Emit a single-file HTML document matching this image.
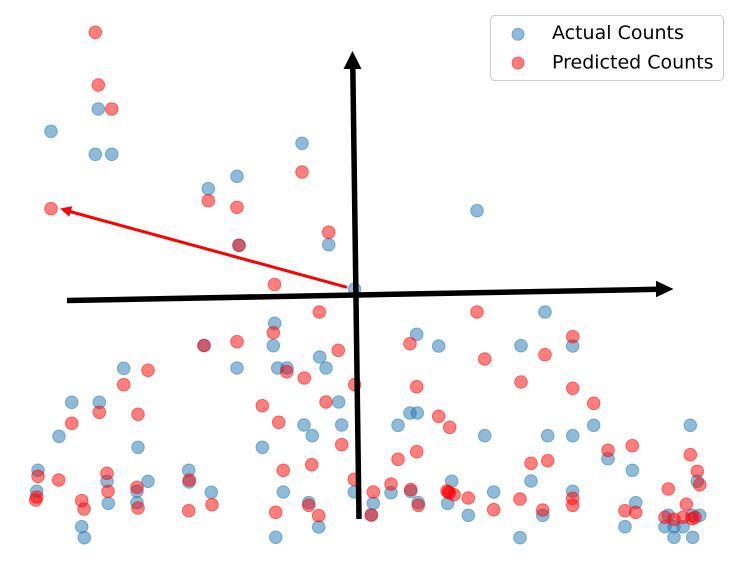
<!DOCTYPE html>
<html><head><meta charset="utf-8"><style>
html,body{margin:0;padding:0;background:#fff;}
svg{display:block;}
text{font-family:"DejaVu Sans","Liberation Sans",sans-serif;}
.b circle{fill:#1f77b4;fill-opacity:0.5;stroke:#1f77b4;stroke-opacity:0.5;stroke-width:1;}
.r circle{fill:#ff0000;fill-opacity:0.5;stroke:#ff0000;stroke-opacity:0.5;stroke-width:1;}
</style></head><body>
<svg width="754" height="575" viewBox="0 0 754 575" xmlns="http://www.w3.org/2000/svg">
<rect width="754" height="575" fill="#fff"/>
<g class="b">
<circle cx="98.3" cy="109" r="6.3"/><circle cx="51" cy="131.3" r="6.3"/><circle cx="95.3" cy="154.3" r="6.3"/><circle cx="111.7" cy="154.3" r="6.3"/>
<circle cx="302" cy="143.3" r="6.3"/><circle cx="237" cy="176.3" r="6.3"/><circle cx="208.3" cy="188.7" r="6.3"/><circle cx="239" cy="245.3" r="6.3"/>
<circle cx="328.7" cy="244.7" r="6.3"/><circle cx="354.5" cy="289" r="6.3"/><circle cx="477" cy="210.7" r="6.3"/><circle cx="204" cy="345.5" r="6.3"/>
<circle cx="123.7" cy="368.3" r="6.3"/><circle cx="71.7" cy="402.3" r="6.3"/><circle cx="99.3" cy="402.3" r="6.3"/><circle cx="59" cy="436.3" r="6.3"/>
<circle cx="138" cy="447.3" r="6.3"/><circle cx="38" cy="470.3" r="6.3"/><circle cx="107" cy="481.3" r="6.3"/><circle cx="148" cy="481.3" r="6.3"/>
<circle cx="137" cy="491.3" r="6.3"/><circle cx="137" cy="502.7" r="6.3"/><circle cx="188.7" cy="470.3" r="6.3"/><circle cx="189" cy="482" r="6.3"/>
<circle cx="36.7" cy="491.3" r="6.3"/><circle cx="108.3" cy="503.3" r="6.3"/><circle cx="81.7" cy="526.7" r="6.3"/><circle cx="84.3" cy="537.7" r="6.3"/>
<circle cx="274.7" cy="323.3" r="6.3"/><circle cx="273.3" cy="345.7" r="6.3"/><circle cx="237" cy="368" r="6.3"/><circle cx="277.7" cy="368" r="6.3"/>
<circle cx="287" cy="368" r="6.3"/><circle cx="319.7" cy="357" r="6.3"/><circle cx="326" cy="368" r="6.3"/><circle cx="338.7" cy="402" r="6.3"/>
<circle cx="304" cy="425" r="6.3"/><circle cx="312.3" cy="435.7" r="6.3"/><circle cx="341.7" cy="425" r="6.3"/><circle cx="262.3" cy="447.3" r="6.3"/>
<circle cx="211.3" cy="492.3" r="6.3"/><circle cx="283.3" cy="492" r="6.3"/><circle cx="308.7" cy="502.7" r="6.3"/><circle cx="318.7" cy="527" r="6.3"/>
<circle cx="275.7" cy="537.3" r="6.3"/><circle cx="354.3" cy="492" r="6.3"/><circle cx="373.3" cy="503.3" r="6.3"/><circle cx="371.3" cy="515" r="6.3"/>
<circle cx="391" cy="492.7" r="6.3"/><circle cx="545" cy="312" r="6.3"/><circle cx="416.7" cy="334.3" r="6.3"/><circle cx="438.7" cy="346" r="6.3"/>
<circle cx="521" cy="345.7" r="6.3"/><circle cx="572.7" cy="346" r="6.3"/><circle cx="410" cy="413" r="6.3"/><circle cx="417.3" cy="413" r="6.3"/>
<circle cx="398" cy="425.3" r="6.3"/><circle cx="484.7" cy="435.7" r="6.3"/><circle cx="547.7" cy="435.7" r="6.3"/><circle cx="572.7" cy="435.7" r="6.3"/>
<circle cx="410.7" cy="491.3" r="6.3"/><circle cx="418.3" cy="502.7" r="6.3"/><circle cx="451.7" cy="481.3" r="6.3"/><circle cx="447.7" cy="503.3" r="6.3"/>
<circle cx="468.3" cy="515.3" r="6.3"/><circle cx="493.7" cy="492" r="6.3"/><circle cx="531" cy="481" r="6.3"/><circle cx="542.7" cy="515.3" r="6.3"/>
<circle cx="520" cy="537.7" r="6.3"/><circle cx="572.7" cy="491.3" r="6.3"/><circle cx="593.7" cy="425.3" r="6.3"/><circle cx="608" cy="458.7" r="6.3"/>
<circle cx="632.3" cy="470.3" r="6.3"/><circle cx="635.7" cy="502.7" r="6.3"/><circle cx="625" cy="526.7" r="6.3"/><circle cx="690.3" cy="425.3" r="6.3"/>
<circle cx="697.3" cy="481.3" r="6.3"/><circle cx="668.3" cy="515.3" r="6.3"/><circle cx="665" cy="526.7" r="6.3"/><circle cx="674" cy="526.7" r="6.3"/>
<circle cx="674" cy="537.3" r="6.3"/><circle cx="683" cy="526.7" r="6.3"/><circle cx="692" cy="515.3" r="6.3"/><circle cx="699.7" cy="515.3" r="6.3"/>
<circle cx="692.7" cy="537.3" r="6.3"/>
</g>
<g class="r">
<circle cx="95.3" cy="32.3" r="6.3"/><circle cx="98.3" cy="85" r="6.3"/><circle cx="111.7" cy="109" r="6.3"/><circle cx="302" cy="172" r="6.3"/>
<circle cx="208.3" cy="200.7" r="6.3"/><circle cx="237" cy="207.3" r="6.3"/><circle cx="51" cy="208.7" r="6.3"/><circle cx="239" cy="245.3" r="6.3"/>
<circle cx="328.7" cy="232.3" r="6.3"/><circle cx="274.5" cy="284.5" r="6.3"/><circle cx="204" cy="345.5" r="6.3"/><circle cx="148" cy="370.3" r="6.3"/>
<circle cx="123.7" cy="384.7" r="6.3"/><circle cx="99.3" cy="412.3" r="6.3"/><circle cx="138" cy="414.3" r="6.3"/><circle cx="71.7" cy="423.3" r="6.3"/>
<circle cx="38" cy="476.3" r="6.3"/><circle cx="58.7" cy="480" r="6.3"/><circle cx="107" cy="473.3" r="6.3"/><circle cx="108" cy="491.3" r="6.3"/>
<circle cx="137" cy="487.3" r="6.3"/><circle cx="138" cy="508" r="6.3"/><circle cx="189.3" cy="480" r="6.3"/><circle cx="36.7" cy="497" r="6.3"/>
<circle cx="35.7" cy="500" r="6.3"/><circle cx="81.7" cy="500.7" r="6.3"/><circle cx="84" cy="509" r="6.3"/><circle cx="188.7" cy="510.7" r="6.3"/>
<circle cx="319.3" cy="312" r="6.3"/><circle cx="273.3" cy="332.7" r="6.3"/><circle cx="237" cy="341.7" r="6.3"/><circle cx="286.7" cy="371.7" r="6.3"/>
<circle cx="304.3" cy="378" r="6.3"/><circle cx="338.3" cy="350.3" r="6.3"/><circle cx="354.7" cy="384.7" r="6.3"/><circle cx="262.3" cy="405.7" r="6.3"/>
<circle cx="326" cy="402" r="6.3"/><circle cx="278.7" cy="422.3" r="6.3"/><circle cx="341.7" cy="444.7" r="6.3"/><circle cx="311.7" cy="464.7" r="6.3"/>
<circle cx="283.3" cy="470.3" r="6.3"/><circle cx="212" cy="504.7" r="6.3"/><circle cx="275.7" cy="512.3" r="6.3"/><circle cx="308.7" cy="505.3" r="6.3"/>
<circle cx="318.7" cy="515.7" r="6.3"/><circle cx="354.3" cy="479.3" r="6.3"/><circle cx="373.3" cy="492" r="6.3"/><circle cx="371.3" cy="515" r="6.3"/>
<circle cx="391" cy="484" r="6.3"/><circle cx="477" cy="312" r="6.3"/><circle cx="410" cy="343.7" r="6.3"/><circle cx="545" cy="354.7" r="6.3"/>
<circle cx="484.7" cy="359" r="6.3"/><circle cx="572.7" cy="336.7" r="6.3"/><circle cx="416.7" cy="386.7" r="6.3"/><circle cx="521" cy="382" r="6.3"/>
<circle cx="572.7" cy="388.3" r="6.3"/><circle cx="438.7" cy="416.3" r="6.3"/><circle cx="449.7" cy="427.3" r="6.3"/><circle cx="398" cy="459.3" r="6.3"/>
<circle cx="416.7" cy="451.7" r="6.3"/><circle cx="531" cy="463.3" r="6.3"/><circle cx="547.7" cy="460.7" r="6.3"/><circle cx="410.7" cy="489.5" r="6.3"/>
<circle cx="418.3" cy="505.3" r="6.3"/><circle cx="448.3" cy="492" r="6.3"/><circle cx="447" cy="491" r="6.3"/><circle cx="449.5" cy="493" r="6.3"/>
<circle cx="454" cy="494.7" r="6.3"/><circle cx="468.3" cy="498" r="6.3"/><circle cx="493.7" cy="509.7" r="6.3"/><circle cx="520" cy="499" r="6.3"/>
<circle cx="542.7" cy="510" r="6.3"/><circle cx="572.7" cy="498.3" r="6.3"/><circle cx="572.7" cy="505.3" r="6.3"/><circle cx="593.7" cy="403.3" r="6.3"/>
<circle cx="608" cy="450.3" r="6.3"/><circle cx="632.3" cy="445.7" r="6.3"/><circle cx="625" cy="510.7" r="6.3"/><circle cx="635.7" cy="512.3" r="6.3"/>
<circle cx="690.3" cy="454.7" r="6.3"/><circle cx="697.3" cy="471.3" r="6.3"/><circle cx="699.7" cy="484.7" r="6.3"/><circle cx="668.3" cy="489" r="6.3"/>
<circle cx="686.3" cy="504.3" r="6.3"/><circle cx="665" cy="517.3" r="6.3"/><circle cx="674" cy="519.3" r="6.3"/><circle cx="683" cy="517.3" r="6.3"/>
<circle cx="692" cy="518.7" r="6.3"/><circle cx="695" cy="517.3" r="6.3"/>
</g>
<line x1="67" y1="300.5" x2="658" y2="289.3" stroke="#000" stroke-width="5.5"/>
<polygon points="673.5,289 656,280.7 656,297.3" fill="#000"/>
<line x1="359" y1="519" x2="352.8" y2="66" stroke="#000" stroke-width="5.5"/>
<polygon points="352.5,51 343.5,69 361.5,69" fill="#000"/>
<line x1="347" y1="287.3" x2="68" y2="211" stroke="#ff0000" stroke-width="3"/>
<polygon points="60,208.5 69.3,216.6 72.2,206.2" fill="#ff0000"/>
<rect x="490.5" y="15.5" width="233" height="65" rx="4" ry="4" fill="#fff" fill-opacity="0.8" stroke="#cccccc" stroke-width="1"/>
<circle cx="518" cy="34.3" r="6" fill="#1f77b4" fill-opacity="0.5" stroke="#1f77b4" stroke-opacity="0.5"/>
<circle cx="518" cy="63" r="6" fill="#ff0000" fill-opacity="0.5" stroke="#ff0000" stroke-opacity="0.5"/>
<text x="552" y="39" font-size="19" fill="#000">Actual Counts</text>
<text x="552" y="68.3" font-size="19" fill="#000">Predicted Counts</text>
</svg>
</body></html>
